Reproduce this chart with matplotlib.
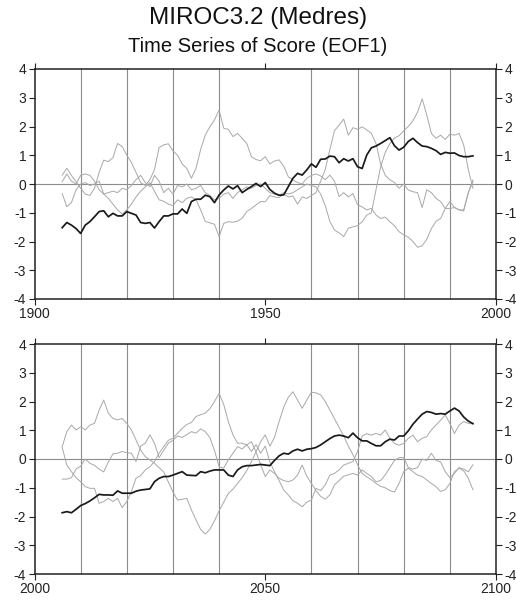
import matplotlib
matplotlib.use("Agg")
import matplotlib.pyplot as plt
import numpy as np

plt.rcParams['font.family'] = ['Liberation Sans', 'DejaVu Sans']

# ---------------- data ----------------
years1 = list(range(1906, 1996))
years2 = list(range(2006, 2096))

p1_main = [-1.52, -1.34, -1.43, -1.55, -1.72, -1.43, -1.31, -1.14, -0.96, -0.93,
           -1.14, -1.02, -1.11, -1.11, -0.96, -1.02, -1.08, -1.34, -1.37, -1.34,
           -1.53, -1.31, -1.11, -1.11, -1.04, -1.04, -0.87, -1.02, -0.61, -0.53,
           -0.53, -0.39, -0.44, -0.65, -0.38, -0.21, -0.07, -0.17, -0.06, -0.30,
           -0.19, -0.09, 0.02, -0.09, 0.05, -0.19, -0.32, -0.39, -0.38, -0.09,
           0.20, 0.37, 0.31, 0.49, 0.70, 0.58, 0.86, 0.87, 0.97, 0.95,
           0.74, 0.88, 0.80, 0.88, 0.60, 0.54, 1.01, 1.26, 1.32, 1.41,
           1.51, 1.61, 1.33, 1.18, 1.28, 1.48, 1.59, 1.44, 1.32, 1.30,
           1.24, 1.16, 1.03, 1.10, 1.07, 1.08, 0.99, 0.95, 0.95, 0.98]

p1_a = [0.31, 0.55, 0.30, 0.08, -0.15, -0.35, -0.40, -0.15, 0.40, 0.83,
        0.78, 0.92, 1.41, 1.30, 1.00, 0.75, 0.40, 0.05, -0.05, 0.15,
        0.50, 1.27, 1.36, 1.40, 1.15, 1.00, 0.70, 0.54, 0.20, 0.55,
        1.20, 1.70, 1.99, 2.23, 2.57, 1.94, 1.90, 1.65, 1.76, 1.59,
        1.41, 0.95, 0.85, 0.81, 0.95, 0.70, 0.80, 0.84, 0.62, 0.25,
        0.14, 0.05, 0.00, 0.20, 0.30, 0.35, 0.28, 0.15, 0.31, 0.10,
        -0.44, -0.30, -0.45, -0.33, -0.72, -0.80, -0.90, -0.85, -1.08, -1.20,
        -1.15, -1.31, -1.45, -1.66, -1.77, -1.85, -2.00, -2.20, -2.15, -1.92,
        -1.55, -1.30, -1.20, -0.85, -0.85, -0.82, -0.90, -0.94, -0.30, 0.08]

p1_b = [0.08, 0.35, 0.10, 0.00, 0.30, 0.35, 0.30, 0.10, -0.20, -0.35,
        -0.30, -0.25, -0.30, -0.15, -0.20, -0.05, 0.15, 0.30, 0.05, -0.10,
        0.30, 0.10, -0.30, -0.15, -0.35, -0.05, -0.10, 0.00, -0.20, -0.15,
        -0.05, -0.30, -0.40, -0.55, -0.50, -0.35, -0.30, -0.50, -0.30, -0.20,
        -0.10, -0.15, -0.05, 0.00, -0.15, -0.30, -0.35, -0.40, -0.30, -0.35,
        -0.30, -0.20, -0.10, 0.00, -0.05, -0.10, -0.35, -0.75, -1.30, -1.60,
        -1.70, -1.83, -1.54, -1.49, -1.45, -1.31, -1.08, -1.00, -0.20, 0.60,
        1.10, 1.40, 1.60, 1.68, 1.85, 2.00, 2.20, 2.50, 2.96, 2.40,
        1.76, 1.59, 1.70, 1.55, 1.73, 1.70, 1.76, 1.36, 0.50, -0.15]

p1_c = [-0.33, -0.79, -0.65, -0.20, 0.00, 0.05, -0.05, 0.00, 0.10, -0.35,
        -0.50, -0.70, -0.90, -1.05, -0.90, -0.70, -0.45, -0.25, -0.10, 0.05,
        -0.25, -0.55, -0.60, -0.70, -0.75, -0.55, -0.65, -0.50, -0.45, -0.55,
        -0.90, -1.30, -1.35, -1.40, -1.83, -1.37, -1.31, -1.33, -1.29, -1.19,
        -0.96, -0.85, -0.73, -0.61, -0.62, -0.40, -0.45, -0.47, -0.35, -0.45,
        -0.42, -0.70, -0.45, -0.50, -0.40, -0.30, 0.10, 0.50, 1.20, 1.85,
        2.05, 2.26, 1.70, 1.96, 1.90, 1.99, 1.88, 1.76, 1.41, 0.70,
        0.30, 0.15, 0.05, -0.15, 0.00, -0.21, -0.27, -0.30, -0.82, -0.20,
        -0.30, -0.50, -0.61, -0.85, -0.61, -0.82, -0.90, -0.90, -0.30, 0.14]

p2_main = [-1.87, -1.83, -1.87, -1.75, -1.62, -1.55, -1.46, -1.35, -1.23, -1.25,
           -1.25, -1.26, -1.11, -1.19, -1.19, -1.19, -1.12, -1.08, -1.06, -1.04,
           -0.79, -0.67, -0.61, -0.61, -0.56, -0.50, -0.44, -0.56, -0.57, -0.58,
           -0.44, -0.48, -0.42, -0.38, -0.38, -0.38, -0.56, -0.61, -0.38, -0.27,
           -0.23, -0.23, -0.21, -0.19, -0.21, -0.23, -0.05, 0.11, 0.20, 0.17,
           0.28, 0.34, 0.28, 0.34, 0.36, 0.40, 0.49, 0.60, 0.71, 0.80,
           0.83, 0.80, 0.74, 0.90, 0.74, 0.63, 0.63, 0.54, 0.46, 0.46,
           0.60, 0.69, 0.66, 0.80, 0.80, 0.98, 1.21, 1.39, 1.56, 1.65,
           1.62, 1.56, 1.58, 1.56, 1.67, 1.77, 1.67, 1.46, 1.32, 1.23]

p2_a = [0.43, 0.95, 1.18, 1.01, 1.12, 1.01, 1.18, 1.24, 1.70, 2.05,
        1.59, 1.41, 1.36, 1.41, 1.24, 1.01, 0.66, 0.31, 0.08, -0.03,
        -0.15, -0.30, -0.45, -0.80, -1.15, -1.43, -1.40, -1.37, -1.77, -2.12,
        -2.45, -2.61, -2.45, -2.15, -1.80, -1.50, -1.20, -1.05, -0.85, -0.65,
        -0.40, -0.10, 0.25, 0.60, 0.84, 0.45, 0.75, 1.30, 1.80, 2.15,
        2.34, 2.05, 1.76, 2.05, 2.32, 2.30, 2.23, 2.00, 1.70, 1.40,
        1.10, 0.80, 0.45, 0.15, -0.20, -0.50, -0.62, -0.72, -0.85, -0.95,
        -1.00, -1.10, -1.15, -0.85, -0.44, -0.32, -0.44, -0.56, -0.61, -0.73,
        -0.85, -0.96, -1.13, -1.07, -0.85, -0.44, -0.32, -0.41, -0.67, -1.07]

p2_b = [-0.70, -0.70, -0.65, -0.35, -0.25, 0.00, -0.15, -0.22, -0.35, -0.45,
        -0.10, 0.18, 0.20, 0.26, 0.22, 0.20, -0.09, 0.45, 0.55, 0.84,
        0.55, 0.05, 0.30, 0.55, 0.65, 0.80, 0.75, 0.85, 0.95, 0.90,
        1.05, 0.95, 0.75, 0.30, -0.27, -0.32, -0.03, 0.20, 0.43, 0.35,
        0.50, 0.26, 0.50, 0.20, 0.45, -0.10, -0.44, -0.75, -1.08, -1.25,
        -1.45, -1.54, -1.66, -1.50, -1.43, -1.02, -1.10, -0.90, -0.56, -0.50,
        -0.38, -0.21, -0.15, -0.09, 0.26, 0.80, 0.88, 0.83, 0.89, 0.83,
        1.01, 0.72, 0.54, 0.48, 0.54, 0.72, 0.83, 0.60, 0.72, 0.78,
        1.01, 1.18, 1.35, 1.53, 1.24, 0.89, 1.18, 1.30, 1.24, 1.22]

p2_c = [0.40, -0.21, -0.44, -0.65, -0.79, -0.96, -1.02, -1.02, -1.54, -1.48,
        -1.37, -1.48, -1.37, -1.69, -1.48, -1.13, -0.67, -0.58, -0.38, -0.27,
        -0.09, 0.20, 0.43, 0.65, 0.72, 0.90, 1.06, 1.20, 1.27, 1.48,
        1.54, 1.60, 1.75, 2.00, 2.28, 1.90, 1.30, 0.84, 0.55, 0.55,
        0.49, 0.60, 0.25, -0.20, -0.61, -0.38, -0.50, -0.67, -0.75, -0.79,
        -0.73, -0.56, -0.21, -0.60, -0.85, -1.10, -1.30, -1.40, -1.25, -0.90,
        -0.75, -0.60, -0.55, -0.50, -0.56, -0.38, -0.50, -0.61, -0.79, -0.75,
        -0.55, -0.30, -0.05, 0.05, 0.05, -0.30, -0.35, -0.30, 0.00, -0.05,
        0.20, -0.05, -0.10, -0.44, -0.65, -0.50, -0.30, -0.35, -0.45, -0.20]

panels = [
    dict(years=years1, main=p1_main, others=[p1_a, p1_b, p1_c],
         xlim=(1900, 2000), xticks=[1900, 1950, 2000],
         grid=list(range(1910, 2000, 10))),
    dict(years=years2, main=p2_main, others=[p2_a, p2_b, p2_c],
         xlim=(2000, 2100), xticks=[2000, 2050, 2100],
         grid=list(range(2010, 2100, 10))),
]
yticks = [-4, -3, -2, -1, 0, 1, 2, 3, 4]

# ---------------- figure ----------------
W, H = 516, 600
fig = plt.figure(figsize=(W / 100, H / 100), dpi=100)

fig.text(0.5, 1 - 18 / H, "MIROC3.2 (Medres)", ha="center", va="center",
         fontsize=17.5, color="#111111")
fig.text(0.5, 1 - 47 / H, "Time Series of Score (EOF1)", ha="center",
         va="center", fontsize=14.5, color="#111111")

boxes = [(34.5, 69, 496, 299), (34.5, 344, 496, 574)]

for pan, (x0, y0, x1, y1) in zip(panels, boxes):
    ax = fig.add_axes([x0 / W, 1 - y1 / H, (x1 - x0) / W, (y1 - y0) / H])
    yrs = np.array(pan["years"])
    for s in pan["others"]:
        ax.plot(yrs, s, color="#a8a8a8", lw=0.7, zorder=2)
    ax.plot(yrs, pan["main"], color="#1a1a1a", lw=1.25, zorder=3)
    ax.axhline(0, color="#8c8c8c", lw=0.8, zorder=1)

    ax.set_xlim(*pan["xlim"])
    ax.set_ylim(-4, 4)
    ax.set_xticks(pan["xticks"])
    ax.set_xticks(pan["grid"], minor=True)
    ax.set_yticks(yticks)
    ax.set_yticklabels([str(v) for v in yticks])
    ax.grid(which="minor", axis="x", color="#8c8c8c", lw=0.8, zorder=1)
    ax.tick_params(which="minor", length=0)
    ax.tick_params(which="major", direction="out", length=4, width=0.8,
                   labelsize=10, colors="#222222",
                   top=True, right=True, labelright=True, pad=2)
    for sp in ax.spines.values():
        sp.set_linewidth(1.1)
        sp.set_color("#222222")

fig.savefig("out.png", dpi=100)
